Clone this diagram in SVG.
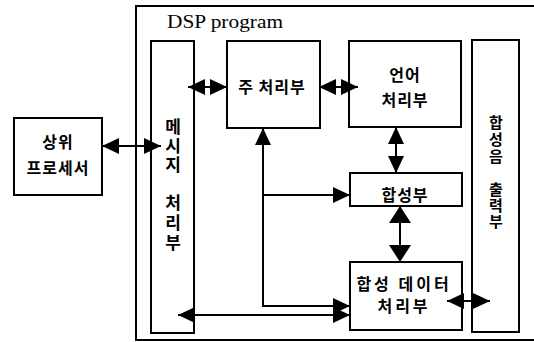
<svg xmlns="http://www.w3.org/2000/svg" width="534" height="342" viewBox="0 0 534 342">
<style>
.box{fill:#fff;stroke:#000;stroke-width:2}
.ln{fill:none;stroke:#000;stroke-width:2}
.kt{font-family:"Noto Sans CJK KR","Noto Sans",sans-serif;font-size:16px;font-weight:bold;fill:#000;text-anchor:middle}
.vt{font-family:"Noto Sans CJK KR","Noto Sans",sans-serif;font-weight:bold;fill:#000;writing-mode:vertical-rl;text-anchor:start}
.dsp{font-family:"Liberation Serif",serif;font-size:19px;fill:#000}
</style>
<defs>
<marker id="ah" markerUnits="userSpaceOnUse" markerWidth="18" markerHeight="16" refX="17" refY="8" orient="auto-start-reverse" viewBox="0 0 18 16">
<path d="M0,0 L17,8 L0,16 z" fill="#000"/>
</marker>
<marker id="ahL" markerUnits="userSpaceOnUse" markerWidth="18" markerHeight="22" refX="17" refY="11" orient="auto-start-reverse" viewBox="0 0 18 22">
<path d="M0,0 L17,11 L0,22 z" fill="#000"/>
</marker>
</defs>
<g id="dsp">
<path class="ln" d="M534,6 H136 V340 H534"/>
<text class="dsp" x="167" y="28" textLength="116" lengthAdjust="spacingAndGlyphs">DSP program</text>
</g>
<g id="host">
<rect class="box" x="14" y="118" width="88" height="77"/>
<text class="kt" x="58" y="148" letter-spacing="1">상위</text>
<text class="kt" x="58" y="174" letter-spacing="1">프로세서</text>
</g>
<g id="msg">
<rect class="box" x="151" y="41" width="43" height="292"/>
<text class="vt" x="173" y="118" font-size="17" letter-spacing="2">메시지</text>
<text class="vt" x="173" y="194" font-size="17" letter-spacing="3">처리부</text>
</g>
<g id="main">
<rect class="box" x="227" y="41" width="93" height="87"/>
<text class="kt" x="272" y="93" letter-spacing="1">주 처리부</text>
</g>
<g id="lang">
<rect class="box" x="349" y="41" width="112" height="86"/>
<text class="kt" x="405" y="81" letter-spacing="1">언어</text>
<text class="kt" x="405" y="106" letter-spacing="1">처리부</text>
</g>
<g id="synth">
<rect class="box" x="350" y="173" width="112" height="33"/>
<text class="kt" x="405" y="201" letter-spacing="1">합성부</text>
</g>
<g id="synthdata">
<rect class="box" x="350" y="262" width="112" height="68"/>
<text class="kt" x="404" y="290" font-size="15" letter-spacing="3">합성 데이터</text>
<text class="kt" x="404" y="312" font-size="15" letter-spacing="3">처리부</text>
</g>
<g id="out">
<rect class="box" x="472" y="40" width="47" height="292"/>
<text class="vt" x="496" y="115" font-size="15" letter-spacing="2">합성음</text>
<text class="vt" x="496" y="182" font-size="15" letter-spacing="1">출력부</text>
</g>
<g id="connectors">
<line class="ln" x1="102" y1="146" x2="161" y2="146" marker-start="url(#ah)" marker-end="url(#ah)"/>
<line class="ln" x1="188" y1="87" x2="227" y2="87" marker-start="url(#ah)" marker-end="url(#ah)"/>
<line class="ln" x1="319" y1="87" x2="358" y2="87" marker-start="url(#ah)" marker-end="url(#ah)"/>
<line class="ln" x1="396" y1="127" x2="396" y2="173" marker-start="url(#ah)" marker-end="url(#ah)"/>
<line class="ln" x1="400" y1="206" x2="400" y2="262" marker-start="url(#ahL)" marker-end="url(#ahL)"/>
<path class="ln" d="M263,306 V128" marker-end="url(#ah)"/>
<path class="ln" d="M263,195 H350" marker-end="url(#ah)"/>
<path class="ln" d="M262,306 H350" marker-end="url(#ah)"/>
<line class="ln" x1="178" y1="315" x2="350" y2="315" marker-start="url(#ah)" marker-end="url(#ah)"/>
<line class="ln" x1="447" y1="301" x2="490" y2="301" marker-start="url(#ah)" marker-end="url(#ah)"/>
</g>
</svg>
